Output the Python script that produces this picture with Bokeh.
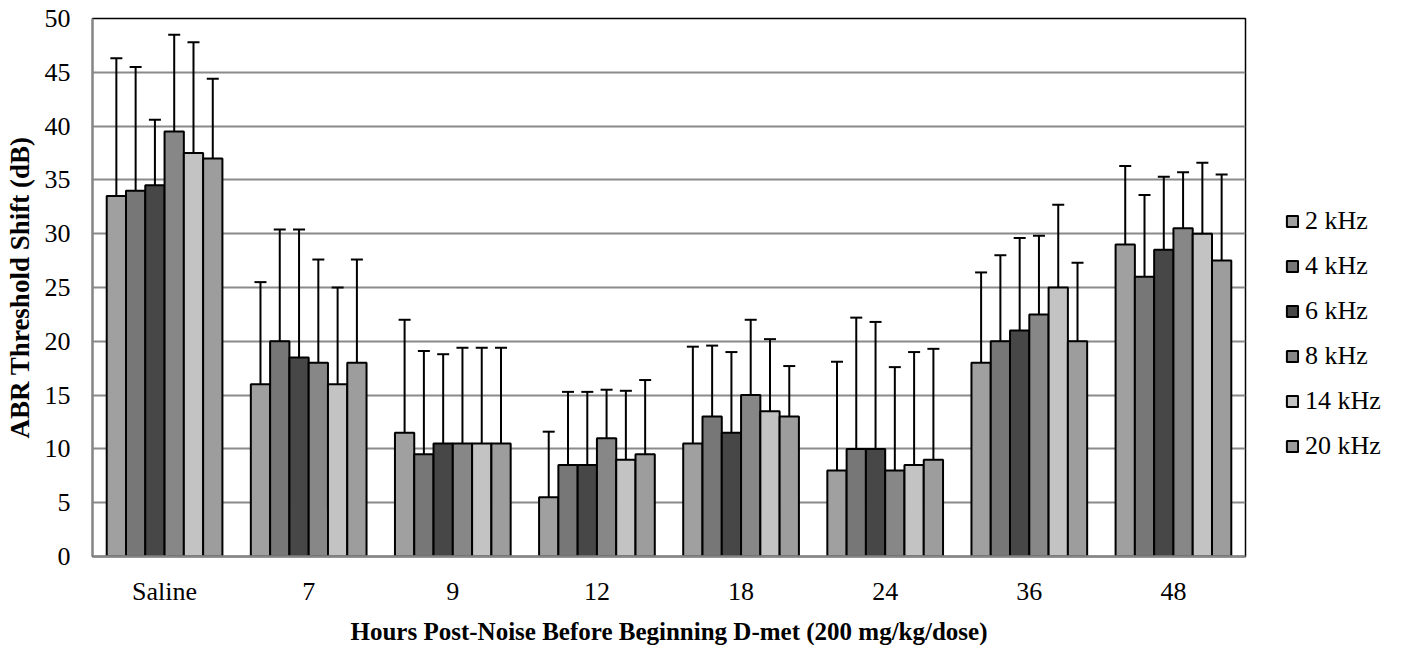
import numpy as np
from bokeh.plotting import figure
from bokeh.models import (ColumnDataSource, Whisker, TeeHead, Legend, LegendItem,
                          FixedTicker, Range1d)
from bokeh.embed import file_html
from bokeh.resources import INLINE

categories = ["Saline", "7", "9", "12", "18", "24", "36", "48"]
series = ["2 kHz", "4 kHz", "6 kHz", "8 kHz", "14 kHz", "20 kHz"]
colors = ["#a0a0a0", "#777777", "#474747", "#878787", "#c3c3c3", "#9d9d9d"]

# mean threshold shift (dB) per category, one list per frequency
khz2 = [33.5, 16.0, 11.5, 5.5, 10.5, 8.0, 18.0, 29.0]
khz4 = [34.0, 20.0, 9.5, 8.5, 13.0, 10.0, 20.0, 26.0]
khz6 = [34.5, 18.5, 10.5, 8.5, 11.5, 10.0, 21.0, 28.5]
khz8 = [39.5, 18.0, 10.5, 11.0, 15.0, 8.0, 22.5, 30.5]
khz14 = [37.5, 16.0, 10.5, 9.0, 13.5, 8.5, 25.0, 30.0]
khz20 = [37.0, 18.0, 10.5, 9.5, 13.0, 9.0, 20.0, 27.5]

# upper error (SD) per category
err2 = [12.8, 9.5, 10.5, 6.1, 9.0, 10.1, 8.4, 7.3]
err4 = [11.5, 10.4, 9.6, 6.8, 6.6, 12.2, 8.0, 7.6]
err6 = [6.1, 11.9, 8.3, 6.8, 7.5, 11.8, 8.6, 6.8]
err8 = [9.0, 9.6, 8.9, 4.5, 7.0, 9.6, 7.3, 5.2]
err14 = [10.3, 9.0, 8.9, 6.4, 6.7, 10.5, 7.7, 6.6]
err20 = [7.4, 9.6, 8.9, 6.9, 4.7, 10.3, 7.3, 8.0]

y_ticks = [0, 5, 10, 15, 20, 25, 30, 35, 40, 45, 50]

means = [khz2, khz4, khz6, khz8, khz14, khz20]
errs = [err2, err4, err6, err8, err14, err20]

FONT = "Liberation Serif"

p = figure(frame_width=1153, frame_height=538, output_backend="svg",
           toolbar_location=None,
           x_range=Range1d(0, len(categories)), y_range=Range1d(0, 50),
           min_border_left=92, min_border_right=157, min_border_top=18,
           min_border_bottom=89)

n = len(series)
bw = 0.1338
cat_idx = np.arange(len(categories))
items = []
for j, (name, col, m, e) in enumerate(zip(series, colors, means, errs)):
    m = np.array(m)
    e = np.array(e)
    xs = cat_idx + 0.5 + (j - (n - 1) / 2) * bw
    src = ColumnDataSource(dict(x=xs, top=m, lower=m, upper=m + e))
    r = p.vbar(x="x", top="top", width=bw, source=src, fill_color=col,
               line_color="black", line_width=2)
    items.append(LegendItem(label=name, renderers=[r]))
    w = Whisker(source=src, base="x", lower="lower", upper="upper",
                dimension="height", line_color="black", line_width=2,
                upper_head=TeeHead(size=12, line_color="black", line_width=2),
                lower_head=None)
    p.add_layout(w)

legend = Legend(items=items, location=(40, 95), margin=0, padding=10,
                glyph_width=14, glyph_height=14, label_standoff=6,
                spacing=15, label_text_font=FONT, label_text_font_size="26px",
                label_text_color="black",
                border_line_color=None, background_fill_alpha=0)
p.add_layout(legend, "right")

p.outline_line_color = "black"
p.outline_line_width = 1.5

p.xgrid.grid_line_color = None
p.ygrid.grid_line_color = "#8a8a8a"
p.ygrid.grid_line_width = 2
p.ygrid.ticker = FixedTicker(ticks=y_ticks)

p.yaxis.ticker = FixedTicker(ticks=y_ticks)
p.yaxis.axis_line_color = "#868686"
p.yaxis.axis_line_width = 2
p.yaxis.major_tick_out = 0
p.yaxis.major_tick_in = 0
p.yaxis.minor_tick_out = 0
p.yaxis.minor_tick_in = 0
p.yaxis.major_label_standoff = 22
p.yaxis.major_label_text_font = FONT
p.yaxis.major_label_text_font_size = "26px"
p.yaxis.major_label_text_color = "black"
p.yaxis.axis_label = "ABR Threshold Shift (dB)"
p.yaxis.axis_label_text_font = FONT
p.yaxis.axis_label_text_font_style = "bold"
p.yaxis.axis_label_text_font_size = "27px"
p.yaxis.axis_label_text_color = "black"
p.yaxis.axis_label_standoff = 7

p.xaxis.ticker = FixedTicker(ticks=list(cat_idx + 0.5))
p.xaxis.major_label_overrides = {float(i + 0.5): c for i, c in enumerate(categories)}
p.xaxis.axis_line_color = "#868686"
p.xaxis.axis_line_width = 2.5
p.xaxis.major_tick_out = 0
p.xaxis.major_tick_in = 0
p.xaxis.minor_tick_out = 0
p.xaxis.minor_tick_in = 0
p.xaxis.major_label_standoff = 20
p.xaxis.major_label_text_font = FONT
p.xaxis.major_label_text_font_size = "26px"
p.xaxis.major_label_text_color = "black"
p.xaxis.axis_label = "Hours Post-Noise Before Beginning D-met (200 mg/kg/dose)"
p.xaxis.axis_label_text_font = FONT
p.xaxis.axis_label_text_font_style = "bold"
p.xaxis.axis_label_text_font_size = "25px"
p.xaxis.axis_label_text_color = "black"
p.xaxis.axis_label_standoff = 9

open("out.html", "w").write(file_html(p, INLINE))
